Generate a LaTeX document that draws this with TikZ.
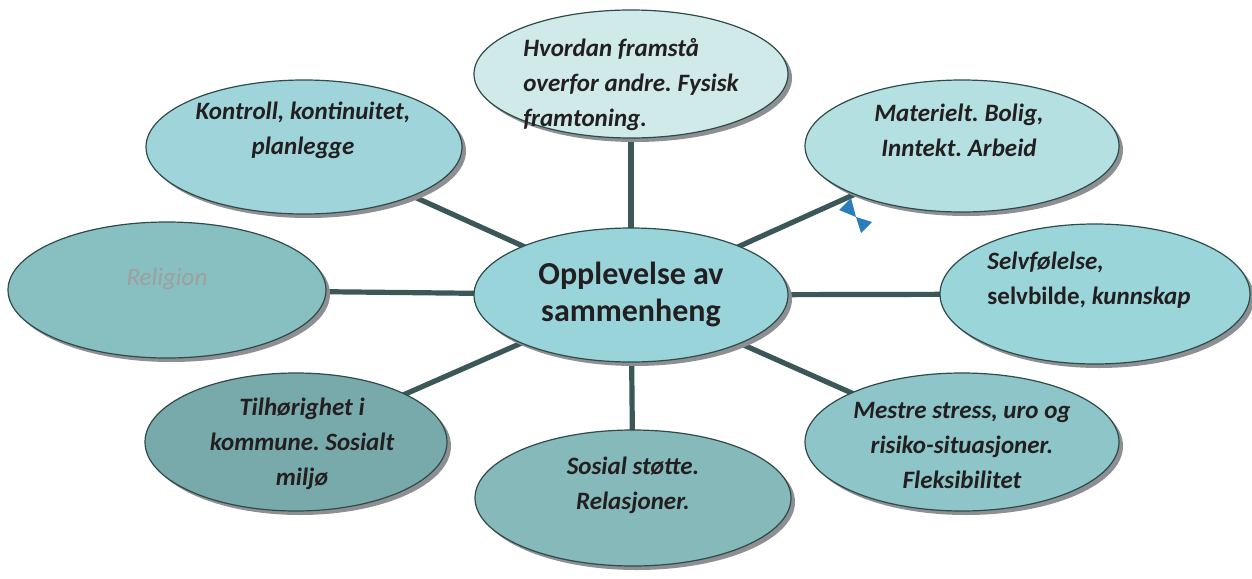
\documentclass[tikz,border=0pt]{standalone}
\usepackage{fontspec}
\setmainfont{Carlito}
\usetikzlibrary{shapes.geometric,shadows,backgrounds}

\definecolor{edgeclr}{HTML}{3B5757}
\definecolor{rimclr}{HTML}{2E4A4A}
\definecolor{shadeclr}{HTML}{8E8F93}
\definecolor{inkclr}{HTML}{231F20}
\definecolor{lookclr}{HTML}{D0EAEA}
\definecolor{controlclr}{HTML}{9FD5DA}
\definecolor{materialclr}{HTML}{B4E0E1}
\definecolor{religionclr}{HTML}{88BFC0}
\definecolor{senseclr}{HTML}{98D4DA}
\definecolor{selfclr}{HTML}{9AD5DA}
\definecolor{belongclr}{HTML}{79AAAB}
\definecolor{supportclr}{HTML}{86B9BA}
\definecolor{copingclr}{HTML}{8DC5C8}
\definecolor{handleclr}{HTML}{2A7FBA}

\tikzset{
  bubble/.style={ellipse, draw=rimclr, line width=0.6pt, inner sep=0pt,
    drop shadow={shadow xshift=2pt, shadow yshift=-2pt, fill=shadeclr, opacity=1}},
  lbl/.style={align=center, text=inkclr, font=\fontsize{12.5}{17.5}\selectfont\frenchspacing\bfseries\itshape},
  spoke/.style={draw=edgeclr, line width=2.6pt}
}

\begin{document}
\begin{tikzpicture}[x=0.5pt,y=-0.5pt]
\useasboundingbox (0,0) rectangle (1252,578);

% bubbles
\node[bubble, fill=senseclr, minimum width=157pt, minimum height=67pt] (sense) at (631,295) {};
\node[bubble, fill=lookclr, minimum width=157pt, minimum height=64pt] (look) at (631,74) {};
\node[bubble, fill=controlclr, minimum width=158pt, minimum height=67pt] (control) at (304,147) {};
\node[bubble, fill=materialclr, minimum width=157pt, minimum height=66pt] (material) at (962,146) {};
\node[bubble, fill=religionclr, minimum width=159pt, minimum height=68pt] (religion) at (167,290) {};
\node[bubble, fill=selfclr, minimum width=155pt, minimum height=70pt] (selfimg) at (1095,294) {};
\node[bubble, fill=belongclr, minimum width=151pt, minimum height=69pt] (belong) at (296,442) {};
\node[bubble, fill=supportclr, minimum width=158pt, minimum height=68pt] (support) at (633,498) {};
\node[bubble, fill=copingclr, minimum width=157pt, minimum height=69pt] (coping) at (962,442) {};

% spokes
\begin{pgfonlayer}{background}
  \foreach \leaf in {look,control,material,religion,selfimg,belong,support,coping}
    \draw[spoke] (sense.center) -- (\leaf.center);
\end{pgfonlayer}

% texts
\node[align=center, text=inkclr, font=\fontsize{16}{18.5}\selectfont\bfseries] (senselbl) at (631,294) {Opplevelse av\\sammenheng};
\node[lbl, align=left] (looklbl) at (631,85) {Hvordan framstå\\overfor andre. Fysisk\\framtoning.};
\node[lbl] (controllbl) at (303,130) {Kontroll, kontinuitet,\\planlegge};
\node[lbl] (materiallbl) at (959,130) {Materielt. Bolig,\\Inntekt. Arbeid};
\node[text=gray!75, font=\fontsize{12.5}{17.5}\selectfont\itshape] (religionlbl) at (167,279) {Religion};
\node[lbl, align=left] (selflbl) at (1089,280) {Selvfølelse,\\\upshape selvbilde, \itshape kunnskap};
\node[lbl] (belonglbl) at (302,444) {Tilhørighet i\\kommune. Sosialt\\miljø};
\node[lbl] (supportlbl) at (633,485) {Sosial støtte.\\Relasjoner.};
\node[lbl] (copinglbl) at (962,445) {Mestre stress, uro og\\risiko-situasjoner.\\Fleksibilitet};

% selection handle
\fill[handleclr] (839,210) -- (851,198) -- (856,217) -- cycle;
\fill[handleclr] (856,217) -- (872,222) -- (861,233) -- cycle;
\end{tikzpicture}
\end{document}
